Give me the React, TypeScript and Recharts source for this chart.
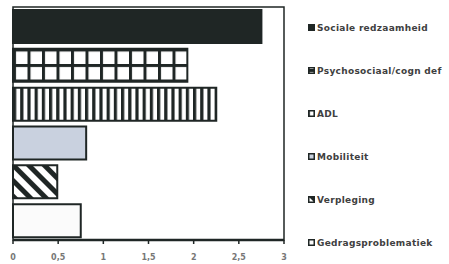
import { Bar, BarChart, Cell, ReferenceArea, XAxis, YAxis } from "recharts";

const categories = [
  "Sociale redzaamheid",
  "Psychosociaal/cogn def",
  "ADL",
  "Mobiliteit",
  "Verpleging",
  "Gedragsproblematiek",
];
const scores = [2.75, 1.93, 2.25, 0.81, 0.49, 0.75];
const fills = [
  "#1f2625",
  "url(#grid)",
  "url(#vstripes)",
  "#c9d1df",
  "url(#diag)",
  "#fbfbfb",
];
const ticks = [0, 0.5, 1, 1.5, 2, 2.5, 3];

const data = categories.map((name, i) => ({ name, score: scores[i], fill: fills[i] }));

const ink = "#1f2625";

function Patterns() {
  return (
    <svg width={0} height={0} style={{ position: "absolute" }}>
      <defs>
        <pattern id="grid" width={14.5} height={15.5} patternUnits="userSpaceOnUse" x={13} y={2}>
          <rect width={14.5} height={15.5} fill="#ffffff" />
          <rect x={0} y={0} width={14.5} height={3} fill={ink} />
          <rect x={0} y={0} width={3} height={15.5} fill={ink} />
        </pattern>
        <pattern id="vstripes" width={7.2} height={10} patternUnits="userSpaceOnUse" x={13}>
          <rect width={7.2} height={10} fill="#ffffff" />
          <rect x={0} y={0} width={3.2} height={10} fill={ink} />
        </pattern>
        <pattern
          id="diag"
          width={11}
          height={11}
          patternUnits="userSpaceOnUse"
          patternTransform="rotate(-45)"
        >
          <rect width={11} height={11} fill="#ffffff" />
          <rect x={0} y={0} width={5} height={11} fill={ink} />
        </pattern>
      </defs>
    </svg>
  );
}

function LegendBox() {
  return (
    <div
      style={{
        position: "absolute",
        left: 308,
        top: 6,
        fontFamily: "'DejaVu Sans', sans-serif",
        fontSize: 9,
        color: "#404040",
      }}
    >
      {data.map((d) => (
        <div key={d.name} style={{ display: "flex", alignItems: "center", height: 43 }}>
          <svg width={7} height={7} style={{ marginRight: 2 }}>
            <rect x={0.75} y={0.75} width={5.5} height={5.5} fill={d.fill} stroke={ink} strokeWidth={1.5} />
          </svg>
          <span style={{ fontWeight: 600, letterSpacing: 0.3 }}>{d.name}</span>
        </div>
      ))}
    </div>
  );
}

export default function App() {
  return (
    <div style={{ position: "absolute", left: 0, top: 0, width: 449, height: 264, background: "#fff" }}>
      <Patterns />
      <BarChart
        width={449}
        height={264}
        data={data}
        layout="vertical"
        margin={{ top: 7, right: 165, bottom: 4, left: 13 }}
        barSize={33}
      >
        <XAxis
          type="number"
          domain={[0, 3]}
          ticks={ticks}
          height={20}
          axisLine={{ stroke: ink, strokeWidth: 2.5 }}
          tickLine={{ stroke: ink, strokeWidth: 1.5 }}
          tickSize={4}
          tickMargin={10}
          tickFormatter={(v: number) => String(v).replace(".", ",")}
          tick={{ fontSize: 8, fill: "#777", fontFamily: "'DejaVu Sans', sans-serif", fontWeight: 600 }}
        />
        <YAxis
          type="category"
          dataKey="name"
          width={0}
          tick={false}
          tickLine={false}
          axisLine={{ stroke: ink, strokeWidth: 3 }}
        />
        <ReferenceArea x1={0} x2={3} fill="none" stroke={ink} strokeWidth={1.5} ifOverflow="visible" />
        <Bar dataKey="score" stroke={ink} strokeWidth={2} isAnimationActive={false}>
          {data.map((d) => (
            <Cell key={d.name} fill={d.fill} />
          ))}
        </Bar>
      </BarChart>
      <LegendBox />
    </div>
  );
}
